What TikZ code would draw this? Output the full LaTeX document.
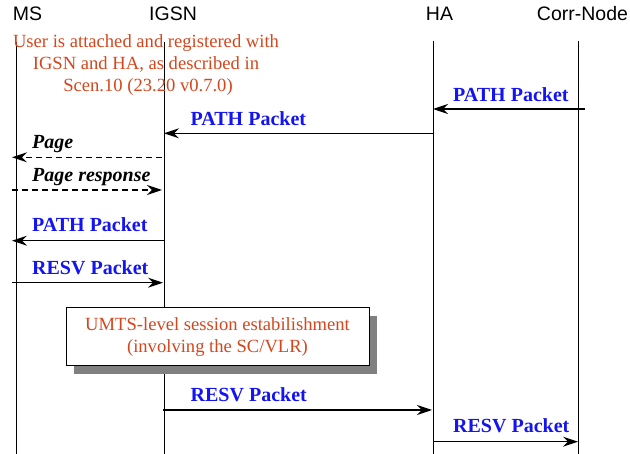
\documentclass[tikz,border=0pt]{standalone}
\usepackage{fontspec}
\setmainfont{Liberation Serif}
\newfontfamily\hdrfont{Liberation Sans}
\usetikzlibrary{arrows.meta,shadows}
\definecolor{noteRed}{RGB}{212,71,30}
\definecolor{msgBlue}{RGB}{20,20,240}
\begin{document}
\begin{tikzpicture}[x=1pt,y=-1pt,
  life/.style={line width=1pt},
  msg/.style={line width=1.2pt,-{Stealth[length=15pt,width=10pt,inset=5pt]}},
  dmsg/.style={msg,line width=1.5pt,dash pattern=on 6pt off 4pt},
  hdr/.style={inner sep=0pt,anchor=base,font=\hdrfont\fontsize{19.5}{22}\selectfont},
  lbl/.style={inner sep=0pt,anchor=base west,text=msgBlue,font=\fontsize{20}{22}\selectfont\bfseries},
  ilbl/.style={inner sep=0pt,anchor=base west,font=\fontsize{20}{22}\selectfont\bfseries\itshape},
  note/.style={inner sep=0pt,anchor=base,text=noteRed,font=\fontsize{18.6}{22}\selectfont},
  boxnote/.style={draw,line width=1pt,fill=white,minimum width=303pt,minimum height=58pt,inner sep=0pt,
    align=center,text=noteRed,font=\fontsize{18.6}{22}\selectfont,
    drop shadow={shadow xshift=8pt,shadow yshift=-8pt,fill=black!50,opacity=1}}
]
\useasboundingbox (0,0) rectangle (630,454);
% headers
\node[hdr] (hMS) at (27.5,21) {MS};
\node[hdr] (hIGSN) at (173,21) {IGSN};
\node[hdr] (hHA) at (439.5,21) {HA};
\node[hdr] (hCN) at (582.5,21) {Corr-Node};
% lifelines
\coordinate (msT) at (16,42); \coordinate (msB) at (16,454);
\coordinate (igT) at (164,42); \coordinate (igB) at (164,454);
\coordinate (haT) at (433,41); \coordinate (haB) at (433,454);
\coordinate (cnT) at (578,41); \coordinate (cnB) at (578,454);
\draw[life] (msT) -- (msB);
\draw[life] (igT) -- (igB);
\draw[life] (haT) -- (haB);
\draw[life] (cnT) -- (cnB);
% note
\node[note] (n1) at (146,48) {User is attached and registered with};
\node[note] (n2) at (146,70) {IGSN and HA, as described in};
\node[note] (n3) at (148,92) {Scen.10 (23.20 v0.7.0)};
% message 1
\coordinate (m1s) at (585,109); \coordinate (m1e) at (433,109);
\draw[msg] (m1s) -- (m1e);
\node[lbl] (l1) at (453,101.5) {PATH Packet};
% message 2
\coordinate (m2s) at (433,133.3); \coordinate (m2e) at (164,133.3);
\draw[msg] (m2s) -- (m2e);
\node[lbl] (l2) at (190.5,126) {PATH Packet};
% page
\coordinate (m3s) at (162,157.3); \coordinate (m3e) at (12,157.3);
\draw[dmsg] (m3s) -- (m3e);
\node[ilbl] (l3) at (32,149) {Page};
% page response
\coordinate (m4s) at (12,190); \coordinate (m4e) at (162,190);
\draw[dmsg] (m4s) -- (m4e);
\node[ilbl] (l4) at (32,181.5) {Page response};
% path to MS
\coordinate (m5s) at (164,240.7); \coordinate (m5e) at (12,240.7);
\draw[msg] (m5s) -- (m5e);
\node[lbl] (l5) at (32,232) {PATH Packet};
% resv to IGSN
\coordinate (m6s) at (12,282.7); \coordinate (m6e) at (163,282.7);
\draw[msg] (m6s) -- (m6e);
\node[lbl] (l6) at (32,275) {RESV Packet};
% box
\node[boxnote] (box) at (217.5,337) {UMTS-level session estabilishment\\(involving the SC/VLR)};
% resv to HA
\coordinate (m7s) at (163,410); \coordinate (m7e) at (432,410);
\draw[msg] (m7s) -- (m7e);
\node[lbl] (l7) at (190.5,401.7) {RESV Packet};
% resv to Corr
\coordinate (m8s) at (433,441.7); \coordinate (m8e) at (578,441.7);
\draw[msg] (m8s) -- (m8e);
\node[lbl] (l8) at (453,433) {RESV Packet};
\end{tikzpicture}
\end{document}
